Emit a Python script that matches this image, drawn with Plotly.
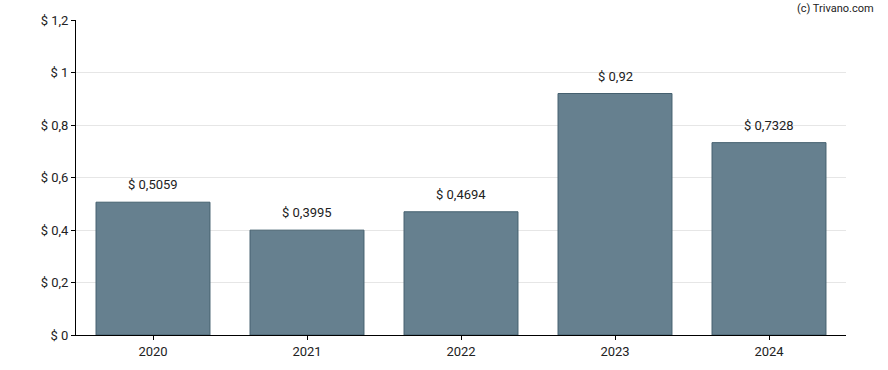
import plotly.graph_objects as go

years = ["2020", "2021", "2022", "2023", "2024"]
values = [0.5059, 0.3995, 0.4694, 0.92, 0.7328]
labels = ["$ 0,5059", "$ 0,3995", "$ 0,4694", "$ 0,92", "$ 0,7328"]
tick_vals = [0, 0.2, 0.4, 0.6, 0.8, 1.0, 1.2]
tick_text = ["$ 0", "$ 0,2", "$ 0,4", "$ 0,6", "$ 0,8", "$ 1", "$ 1,2"]

fig = go.Figure()
fig.add_trace(go.Bar(
    x=years, y=values,
    marker=dict(color="#66808f", line=dict(color="#45606f", width=1)),
    width=0.74,
    hoverinfo="skip",
))
for i, (v, t) in enumerate(zip(values, labels)):
    fig.add_annotation(x=i, y=v, text=t, showarrow=False, yanchor="bottom",
                       yshift=8, font=dict(family="Roboto", size=13, color="#222222"))

fig.add_annotation(xref="paper", yref="paper", x=1.0395, y=1.063, xanchor="right", yanchor="top",
                   text="(c) Trivano.com", showarrow=False,
                   font=dict(family="Roboto", size=11, color="#222222"))

fig.update_layout(
    width=888, height=370,
    margin=dict(l=76, r=42, t=20, b=35),
    paper_bgcolor="white", plot_bgcolor="white",
    showlegend=False,
    font=dict(family="Roboto", size=13, color="#222222"),
    xaxis=dict(type="category", showline=True, linecolor="black", linewidth=1, ticks="outside",
               ticklen=4, tickcolor="black", showgrid=False, tickfont=dict(size=13)),
    yaxis=dict(range=[0, 1.2], tickvals=tick_vals, ticktext=tick_text, showline=True,
               linecolor="black", linewidth=1, ticks="outside", ticklen=4, tickcolor="black",
               showgrid=True, gridcolor="#e6e6e6", gridwidth=1, zeroline=False,
               tickfont=dict(size=13)),
)
fig.write_html("out.html", config={"displayModeBar": False},
               post_script="document.body.style.margin='0';")
